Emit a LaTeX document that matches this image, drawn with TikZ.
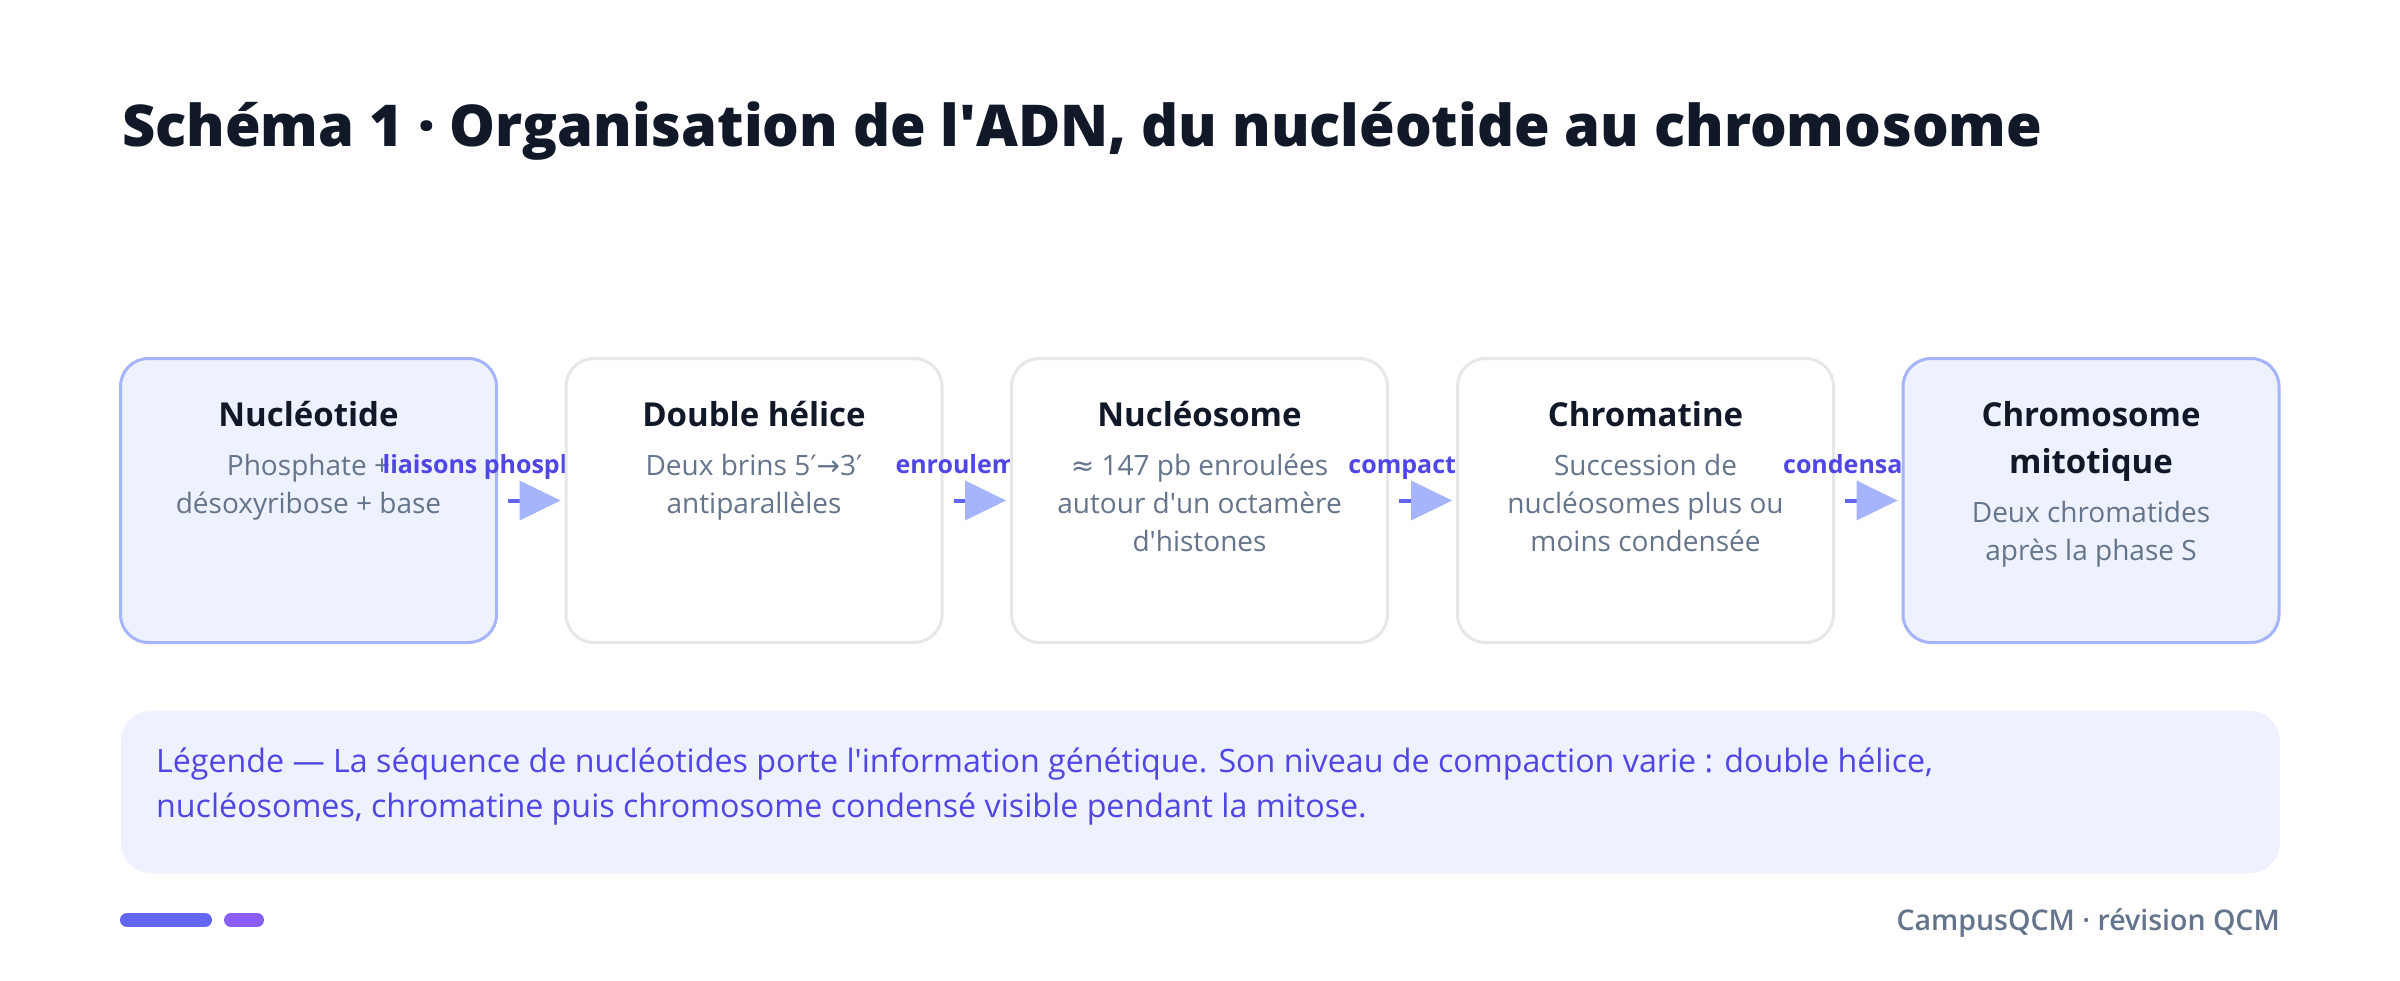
\documentclass[tikz,border=0pt]{standalone}
\usepackage{fontspec}
\IfFontExistsTF{Open Sans Bold}{%
  \setmainfont{Open Sans}[BoldFont={Open Sans Bold}]}{%
  \setmainfont{Liberation Sans}}
\IfFontExistsTF{Open Sans ExtraBold}{\newfontfamily\heavyfont{Open Sans ExtraBold}}{%
  \IfFontExistsTF{Open Sans Extrabold}{\newfontfamily\heavyfont{Open Sans Extrabold}}{%
    \newfontfamily\heavyfont{Open Sans Bold}[FakeBold=1.2]}}
\IfFontExistsTF{Open Sans SemiBold}{\newfontfamily\semifont{Open Sans SemiBold}}{%
  \IfFontExistsTF{Open Sans Semibold}{\newfontfamily\semifont{Open Sans Semibold}}{%
    \newfontfamily\semifont{Open Sans Bold}}}
\newfontfamily\symfont{DejaVu Sans}
\newcommand\aq{\textquotesingle}
\usetikzlibrary{arrows.meta}
\definecolor{ink}{HTML}{111827}
\definecolor{muted}{HTML}{64748B}
\definecolor{accent}{HTML}{4F46E5}
\definecolor{hlfill}{HTML}{EEF2FF}
\definecolor{hlline}{HTML}{A5B4FC}
\definecolor{plainline}{HTML}{E5E7EB}
\definecolor{arrline}{HTML}{6366F1}
\definecolor{barA}{HTML}{6366F1}
\definecolor{barB}{HTML}{8B5CF6}
\tikzset{
  card/.style={rounded corners=28pt, line width=3pt, minimum width=376pt, minimum height=284pt, inner sep=0pt},
  cardhl/.style={card, draw=hlline, fill=hlfill},
  cardplain/.style={card, draw=plainline, fill=white},
  cardtitle/.style={anchor=base, inner sep=0pt, text=ink, align=center, font=\fontsize{33}{47}\selectfont\bfseries},
  carddesc/.style={anchor=base, inner sep=0pt, text=muted, align=center, font=\fontsize{28}{38}\selectfont},
  conlabel/.style={anchor=base, inner sep=0pt, text=accent, font=\fontsize{25}{30}\selectfont\bfseries},
  conn/.style={draw=arrline, line width=4pt, -{Triangle[length=41pt,width=40pt,line width=0pt,color=hlline,fill=hlline]}},
}
\begin{document}
\begin{tikzpicture}[x=1pt,y=-1pt]
\useasboundingbox (0,0) rectangle (2400,981);
\fill[white] (0,0) rectangle (2400,981);
% title
\node[anchor=base west, inner sep=0pt, text=ink, font=\fontsize{57.7}{68}\selectfont\heavyfont] (title) at (122,147) {Schéma 1 · Organisation de l\aq ADN, du nucléotide au chromosome};
% box 1
\node[cardhl] (b1) at (308.5,500.5) {};
\node[cardtitle] (t1) at (308.5,426) {Nucléotide};
\node[carddesc] (d1) at (308.5,513) {Phosphate +\\désoxyribose + base};
\node[conlabel] (l1) at (531,473) {liaisons phosphodiester};
% box 2
\node[cardplain] (b2) at (754,500.5) {};
\node[cardtitle] (t2) at (754,426) {Double hélice};
\node[carddesc] (d2) at (754,513) {Deux brins 5{\symfont ′→}3{\symfont ′}\\antiparallèles};
\node[conlabel] (l2) at (977,473) {enroulement};
% box 3
\node[cardplain] (b3) at (1199.5,500.5) {};
\node[cardtitle] (t3) at (1199.5,426) {Nucléosome};
\node[carddesc] (d3) at (1199.5,551) {{\symfont ≈} 147 pb enroulées\\autour d\aq un octamère\\d\aq histones};
\node[conlabel] (l3) at (1422,473) {compaction};
% box 4
\node[cardplain] (b4) at (1645.5,500.5) {};
\node[cardtitle] (t4) at (1645.5,426) {Chromatine};
\node[carddesc] (d4) at (1645.5,551) {Succession de\\nucléosomes plus ou\\moins condensée};
\node[conlabel] (l4) at (1868,473) {condensation};
% box 5
\node[cardhl] (b5) at (2091,500.5) {};
\node[cardtitle] (t5) at (2091,473) {Chromosome\\mitotique};
\node[carddesc] (d5) at (2091,560) {Deux chromatides\\après la phase S};
% connectors
\draw[conn] ([xshift=10pt]b1.east) -- ([xshift=-4pt]b2.west);
\draw[conn] ([xshift=10pt]b2.east) -- ([xshift=-4pt]b3.west);
\draw[conn] ([xshift=10pt]b3.east) -- ([xshift=-4pt]b4.west);
\draw[conn] ([xshift=10pt]b4.east) -- ([xshift=-4pt]b5.west);
% legend
\node[rounded corners=30pt, fill=hlfill, minimum width=2159pt, minimum height=162pt, inner sep=0pt] (leg) at (1200.5,792) {};
\node[anchor=base west, inner sep=0pt, text=accent, align=left, font=\fontsize{32.2}{45}\selectfont] (legtxt) at (156,817) {Légende — La séquence de nucléotides porte l\aq information génétique. Son niveau de compaction varie : double hélice,\\nucléosomes, chromatine puis chromosome condensé visible pendant la mitose.};
% footer
\coordinate (ba1) at (127,920);
\coordinate (ba2) at (205,920);
\coordinate (bb1) at (231,920);
\coordinate (bb2) at (257,920);
\draw[barA, line width=14pt, line cap=round] (ba1) -- (ba2);
\draw[barB, line width=14pt, line cap=round] (bb1) -- (bb2);
\node[anchor=base east, inner sep=0pt, text=muted, font=\fontsize{28.5}{32}\selectfont\semifont] (foot) at (2280,930) {CampusQCM · révision QCM};
\end{tikzpicture}
\end{document}
